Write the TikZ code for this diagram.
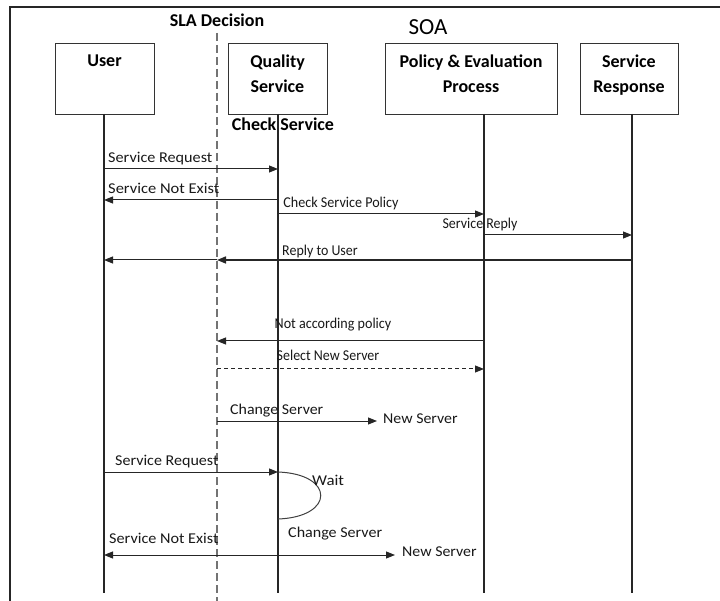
\documentclass[tikz,border=0pt]{standalone}
\usepackage{fontspec}
\usepackage{graphicx}
\setmainfont{Carlito}
\usetikzlibrary{arrows.meta}
\newcommand{\hsq}[2]{\scalebox{#1}[1]{#2}}
\begin{document}
\begin{tikzpicture}[x=1pt,y=-1pt,
  actor/.style={draw=black!80,line width=1.2pt,minimum width=99pt,minimum height=71pt,inner sep=0pt,anchor=north west},
  hdr/.style={font=\fontsize{18}{22}\selectfont\bfseries,inner sep=0pt,anchor=base},
  lbl/.style={font=\fontsize{15}{17}\selectfont,inner sep=0pt,text=black!90},
  life/.style={draw=black!85,line width=1.2pt},
  msg/.style={draw=black!85,line width=1pt,-{Triangle[length=9pt,width=7pt]}},
  dmsg/.style={msg,dash pattern=on 4pt off 3pt},
  decision/.style={draw=black!55,line width=1.8pt,dash pattern=on 8pt off 4pt}]
\useasboundingbox (0,0) rectangle (720,601);
\fill[white] (0,0) rectangle (720,601);
% frame
\draw[black!85,line width=1.2pt] (10,601) -- (10,7) -- (720,7);
% titles
\node[hdr] (sla) at (217,27) {SLA Decision};
\node[font=\fontsize{23}{25}\selectfont,inner sep=0pt,anchor=base] (soa) at (428,35) {SOA};
% boxes
\node[actor] (user) at (55,43) {};
\node[hdr] (usert) at (104.5,67) {User};
\node[actor] (qual) at (228,43) {};
\node[hdr] (qualt1) at (277.5,68) {Quality};
\node[hdr] (qualt2) at (277.5,93) {Service};
\node[actor,minimum width=172pt] (pol) at (385,43) {};
\node[hdr] (polt1) at (471,68) {Policy \& Evaluation};
\node[hdr] (polt2) at (471,93) {Process};
\node[actor,minimum width=98pt] (resp) at (580,43) {};
\node[hdr] (respt1) at (629,68) {Service};
\node[hdr] (respt2) at (629,93) {Response};
\node[hdr] (chk) at (283,131) {Check Service};
% lifeline coordinates
\coordinate (Lu) at (104,114);  \coordinate (Lue) at (104,593);
\coordinate (Lq) at (278,114);  \coordinate (Lqe) at (278,593);
\coordinate (Lp) at (484,114);  \coordinate (Lpe) at (484,593);
\coordinate (Lr) at (632,114);  \coordinate (Lre) at (632,593);
\coordinate (Ld) at (217,33);   \coordinate (Lde) at (217,601);
\draw[life] (Lu) -- (Lue);
\draw[life] (Lq) -- (Lqe);
\draw[life] (Lp) -- (Lpe);
\draw[life] (Lr) -- (Lre);
\draw[decision] (Ld) -- (Lde);
% rows
\coordinate (r1) at (0,169);
\coordinate (r2) at (0,200);
\coordinate (r3) at (0,214);
\coordinate (r4) at (0,235);
\coordinate (r5) at (0,260);
\coordinate (r6) at (0,341);
\coordinate (r7) at (0,369);
\coordinate (r8) at (0,421);
\coordinate (r9) at (0,472);
\coordinate (r10) at (0,519);
\coordinate (r11) at (0,555);
% free ends
\coordinate (ns1) at (377,421);
\coordinate (ns2) at (395,555);
% messages
\draw[msg] (Lu |- r1) -- (Lq |- r1);
\node[lbl,anchor=base west] (m1) at (108,163) {\hsq{1.08}{Service Request}};
\draw[msg] (Lq |- r2) -- (Lu |- r2);
\node[lbl,anchor=base west] (m2) at (108,194) {\hsq{1.1}{Service Not Exist}};
\draw[msg] (Lq |- r3) -- (Lp |- r3);
\node[lbl,anchor=base] (m3) at (341,208) {\hsq{0.94}{Check Service Policy}};
\draw[msg] (Lp |- r4) -- (Lr |- r4);
\node[lbl,anchor=base] (m4) at (480,229) {\hsq{0.93}{Service Reply}};
\draw[msg,line width=1.6pt] (Lr |- r5) -- (Ld |- r5);
\draw[msg] (Ld |- r5) -- (Lu |- r5);
\node[lbl,anchor=base] (m5) at (320,256) {\hsq{0.93}{Reply to User}};
\draw[msg] (Lp |- r6) -- (Ld |- r6);
\node[lbl,anchor=base] (m6) at (333,329) {\hsq{0.94}{Not according policy}};
\draw[dmsg] (Ld |- r7) -- (Lp |- r7);
\node[lbl,anchor=base] (m7) at (328,361) {\hsq{0.93}{Select New Server}};
\draw[msg] (Ld |- r8) -- (ns1);
\node[lbl,anchor=base west] (m8) at (230,414) {\hsq{1.06}{Change Server}};
\node[lbl,anchor=base west] (n1) at (383,423) {\hsq{1.06}{New Server}};
\draw[msg] (Lu |- r9) -- (Lq |- r9);
\node[lbl,anchor=base west] (m9) at (115,465) {\hsq{1.07}{Service Request}};
\draw[black!75,line width=1pt] (Lq |- r9) .. controls (335,474) and (335,517) .. (Lq |- r10);
\node[lbl,anchor=base west] (wait) at (312,485) {\hsq{1.12}{Wait}};
\node[lbl,anchor=base west] (m10) at (288,537) {\hsq{1.07}{Change Server}};
\draw[msg] (Lq |- r11) -- (Lu |- r11);
\draw[msg] (Lq |- r11) -- (ns2);
\node[lbl,anchor=base west] (m11) at (109,543) {\hsq{1.08}{Service Not Exist}};
\node[lbl,anchor=base west] (n2) at (402,556) {\hsq{1.06}{New Server}};
\end{tikzpicture}
\end{document}
